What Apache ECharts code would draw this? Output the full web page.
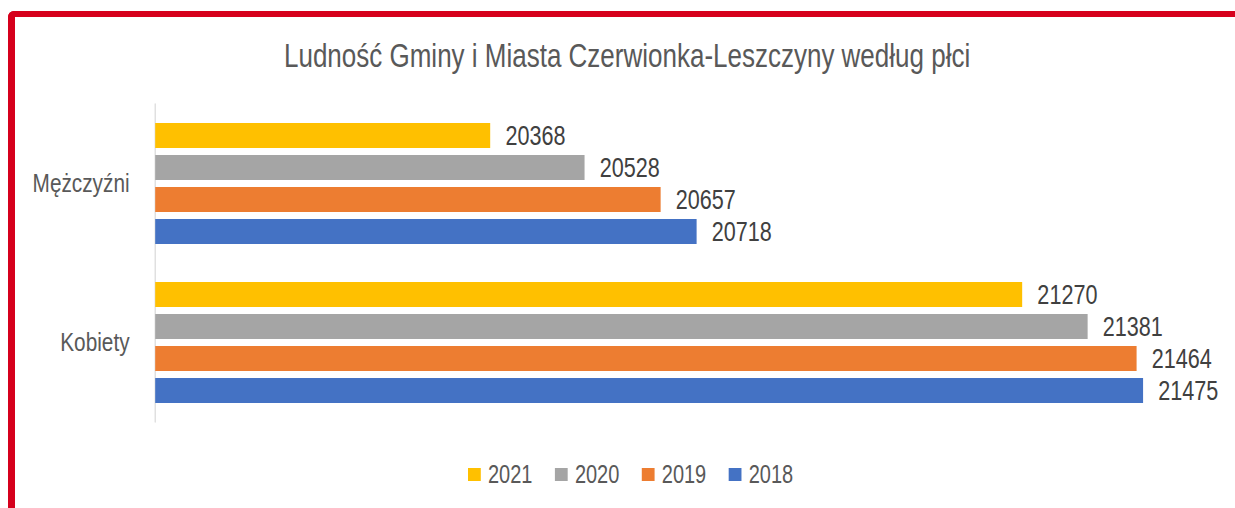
<!DOCTYPE html>
<html>
<head>
<meta charset="utf-8">
<script src="https://cdn.jsdelivr.net/npm/echarts@6/dist/echarts.min.js"></script>
<style>
  html, body { margin: 0; padding: 0; background: #fff; overflow: hidden; }
  #frame {
    position: absolute; left: 8px; top: 11px; width: 1227px; height: 497px;
    border-left: 7px solid #d6001c; border-top: 6px solid #d6001c;
    border-top-left-radius: 6px; box-sizing: border-box;
  }
  /* wykres rysowany szerzej i ściśnięty w poziomie -> wąski krój pisma jak w oryginale */
  #chart {
    position: absolute; left: 0; top: 0; width: 1544px; height: 508px;
    transform: scaleX(0.8); transform-origin: 0 0;
  }
</style>
</head>
<body>
<div id="frame"></div>
<div id="chart"></div>
<script>
// kategorie (od dołu)
var categories = ['Kobiety', 'Mężczyźni'];
var years = ['2021', '2020', '2019', '2018'];
var colors = ['#FFC000', '#A5A5A5', '#ED7D31', '#4472C4'];
// wartości: [Kobiety, Mężczyźni]
var v2021 = [21270, 20368];
var v2020 = [21381, 20528];
var v2019 = [21464, 20657];
var v2018 = [21475, 20718];
var values = [v2021, v2020, v2019, v2018];

var chart = echarts.init(document.getElementById('chart'), null, { renderer: 'svg' });
var font = '"Liberation Sans", Arial, sans-serif';

var series = years.map(function (y, i) {
  return {
    name: y,
    type: 'bar',
    data: values[i],
    barGap: '28%',
    barCategoryGap: '24%',
    itemStyle: { color: colors[i] },
    label: {
      show: true,
      position: 'right',
      distance: 19,
      color: '#404040',
      fontSize: 27,
      fontFamily: font
    },
    emphasis: { disabled: true }
  };
});

chart.setOption({
  animation: false,
  title: {
    text: 'Ludność Gminy i Miasta Czerwionka-Leszczyny według płci',
    left: 350,
    top: 34,
    textStyle: { color: '#595959', fontSize: 32.5, fontWeight: 'normal', fontFamily: font }
  },
  legend: {
    data: years,
    top: 457,
    left: 580,
    itemWidth: 16,
    itemHeight: 13,
    itemGap: 28,
    icon: 'rect',
    textStyle: { color: '#595959', fontSize: 25, fontFamily: font, padding: [0, 0, 0, 4] }
  },
  grid: { left: 194, right: 23, top: 104, bottom: 86, containLabel: false },
  xAxis: {
    type: 'value',
    min: 19800,
    max: 21600,
    show: false
  },
  yAxis: {
    type: 'category',
    data: categories,
    axisTick: { show: false },
    axisLine: { show: true, lineStyle: { color: '#d9d9d9', width: 1.5 } },
    axisLabel: { color: '#595959', fontSize: 26, fontFamily: font, margin: 32 }
  },
  series: series
});
</script>
</body>
</html>
